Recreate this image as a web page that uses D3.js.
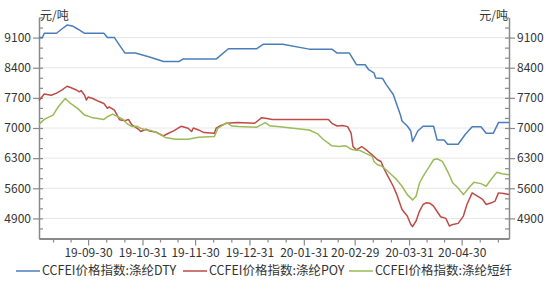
<!DOCTYPE html>
<html>
<head>
<meta charset="utf-8">
<script src="https://cdn.jsdelivr.net/npm/d3@7"></script>
<style>
  body { margin: 0; background: #fff; }
  text { font-family: "Noto Sans CJK SC", "Noto Sans", sans-serif; fill: #333; }
</style>
</head>
<body>
<script>
// CCFEI 涤纶价格指数

let w = 550;
let h = 294;

let svg = d3.select('body').append('svg').attr('width', w).attr('height', h);

// 涤纶DTY
let dty = [
    ['2019-09-02', 9100], ['2019-09-04', 9100], ['2019-09-05', 9200], ['2019-09-12', 9200],
    ['2019-09-15', 9300], ['2019-09-18', 9390], ['2019-09-21', 9370], ['2019-09-24', 9300],
    ['2019-09-28', 9200], ['2019-10-09', 9200], ['2019-10-11', 9100], ['2019-10-15', 9100],
    ['2019-10-21', 8740], ['2019-10-27', 8740], ['2019-11-04', 8650], ['2019-11-12', 8546],
    ['2019-11-21', 8546], ['2019-11-23', 8600], ['2019-12-12', 8600], ['2019-12-19', 8840],
    ['2020-01-04', 8840], ['2020-01-08', 8947], ['2020-01-19', 8947], ['2020-02-03', 8832],
    ['2020-02-16', 8832], ['2020-02-19', 8740], ['2020-02-26', 8740], ['2020-03-01', 8470],
    ['2020-03-06', 8470], ['2020-03-08', 8354], ['2020-03-11', 8280], ['2020-03-12', 8163],
    ['2020-03-16', 8147], ['2020-03-18', 8008], ['2020-03-22', 7777], ['2020-03-24', 7546],
    ['2020-03-26', 7316], ['2020-03-27', 7162], ['2020-03-30', 7046], ['2020-04-01', 6930],
    ['2020-04-02', 6686], ['2020-04-05', 6930], ['2020-04-08', 7040], ['2020-04-14', 7040],
    ['2020-04-16', 6723], ['2020-04-20', 6723], ['2020-04-22', 6623], ['2020-04-28', 6623],
    ['2020-05-02', 6850], ['2020-05-06', 7030], ['2020-05-11', 7030], ['2020-05-14', 6877],
    ['2020-05-18', 6877], ['2020-05-21', 7125], ['2020-05-27', 7125]
];

// 涤纶POY
let poy = [
    ['2019-09-02', 7640], ['2019-09-05', 7790], ['2019-09-09', 7760], ['2019-09-12', 7810],
    ['2019-09-15', 7880], ['2019-09-18', 7970], ['2019-09-20', 7940], ['2019-09-23', 7890],
    ['2019-09-25', 7840], ['2019-09-26', 7870], ['2019-09-28', 7760], ['2019-09-29', 7650],
    ['2019-09-30', 7720], ['2019-10-03', 7680], ['2019-10-06', 7620], ['2019-10-09', 7570],
    ['2019-10-11', 7460], ['2019-10-12', 7490], ['2019-10-15', 7415], ['2019-10-16', 7340],
    ['2019-10-18', 7190], ['2019-10-21', 7170], ['2019-10-23', 7200], ['2019-10-25', 7070],
    ['2019-10-29', 6960], ['2019-10-30', 6920], ['2019-11-02', 6970], ['2019-11-04', 6930],
    ['2019-11-08', 6900], ['2019-11-12', 6815], ['2019-11-14', 6860], ['2019-11-18', 6940],
    ['2019-11-22', 7040], ['2019-11-26', 6995], ['2019-11-28', 6917], ['2019-11-29', 7000],
    ['2019-12-02', 6955], ['2019-12-05', 6893], ['2019-12-11', 6877], ['2019-12-12', 6995],
    ['2019-12-14', 7046], ['2019-12-18', 7108], ['2019-12-24', 7125], ['2020-01-03', 7110],
    ['2020-01-07', 7240], ['2020-01-10', 7223], ['2020-01-13', 7200], ['2020-02-14', 7200],
    ['2020-02-16', 7108], ['2020-02-19', 7046], ['2020-02-22', 7060], ['2020-02-25', 7032],
    ['2020-02-27', 6877], ['2020-02-28', 6570], ['2020-03-01', 6492], ['2020-03-04', 6570],
    ['2020-03-07', 6478], ['2020-03-10', 6377], ['2020-03-13', 6262], ['2020-03-15', 6223],
    ['2020-03-17', 6030], ['2020-03-19', 5878], ['2020-03-22', 5647], ['2020-03-24', 5453],
    ['2020-03-27', 5107], ['2020-03-30', 4954], ['2020-04-01', 4760], ['2020-04-02', 4710],
    ['2020-04-04', 4840], ['2020-04-06', 5070], ['2020-04-08', 5223], ['2020-04-10', 5265],
    ['2020-04-12', 5250], ['2020-04-14', 5185], ['2020-04-16', 5060], ['2020-04-18', 4939],
    ['2020-04-21', 4900], ['2020-04-23', 4723], ['2020-04-25', 4760], ['2020-04-28', 4785],
    ['2020-05-01', 4954], ['2020-05-03', 5223], ['2020-05-06', 5493], ['2020-05-09', 5416],
    ['2020-05-12', 5340], ['2020-05-14', 5223], ['2020-05-17', 5262], ['2020-05-19', 5300],
    ['2020-05-21', 5493], ['2020-05-24', 5480], ['2020-05-27', 5453]
];

// 涤纶短纤
let psf = [
    ['2019-09-02', 7085], ['2019-09-05', 7200], ['2019-09-10', 7300], ['2019-09-13', 7494],
    ['2019-09-17', 7685], ['2019-09-20', 7570], ['2019-09-24', 7455], ['2019-09-28', 7300],
    ['2019-10-02', 7246], ['2019-10-09', 7200], ['2019-10-11', 7262], ['2019-10-14', 7323],
    ['2019-10-17', 7262], ['2019-10-20', 7200], ['2019-10-22', 7108], ['2019-10-25', 7032],
    ['2019-10-28', 7040], ['2019-10-30', 6993], ['2019-11-02', 6954], ['2019-11-05', 6940],
    ['2019-11-09', 6877], ['2019-11-13', 6780], ['2019-11-19', 6739], ['2019-11-26', 6739],
    ['2019-12-02', 6785], ['2019-12-11', 6800], ['2019-12-13', 6993], ['2019-12-18', 7125],
    ['2019-12-21', 7046], ['2019-12-25', 7032], ['2020-01-04', 7016], ['2020-01-09', 7125],
    ['2020-01-12', 7046], ['2020-01-16', 7032], ['2020-01-25', 6993], ['2020-02-03', 6954],
    ['2020-02-08', 6862], ['2020-02-11', 6739], ['2020-02-14', 6647], ['2020-02-16', 6585],
    ['2020-02-20', 6570], ['2020-02-24', 6585], ['2020-02-26', 6530], ['2020-02-28', 6492],
    ['2020-03-03', 6478], ['2020-03-06', 6415], ['2020-03-10', 6340], ['2020-03-11', 6223],
    ['2020-03-13', 6146], ['2020-03-15', 6123], ['2020-03-18', 6030], ['2020-03-21', 5915],
    ['2020-03-24', 5800], ['2020-03-27', 5647], ['2020-03-30', 5453], ['2020-04-02', 5330],
    ['2020-04-04', 5416], ['2020-04-06', 5723], ['2020-04-08', 5878], ['2020-04-11', 6070],
    ['2020-04-14', 6262], ['2020-04-16', 6285], ['2020-04-19', 6223], ['2020-04-22', 5993],
    ['2020-04-25', 5723], ['2020-04-28', 5608], ['2020-05-01', 5453], ['2020-05-04', 5608],
    ['2020-05-07', 5738], ['2020-05-11', 5708], ['2020-05-14', 5647], ['2020-05-16', 5762],
    ['2020-05-20', 5970], ['2020-05-23', 5938], ['2020-05-27', 5915]
];

let monthEnds = ['2019-08-31', '2019-09-30', '2019-10-31', '2019-11-30', '2019-12-31',
    '2020-01-31', '2020-02-29', '2020-03-31', '2020-04-30', '2020-05-31'];
let xLabels = ['19-09-30', '19-10-31', '19-11-30', '19-12-31', '20-01-31', '20-02-29', '20-03-31', '20-04-30'];
let yTicks = [4900, 5600, 6300, 7000, 7700, 8400, 9100];

let seriesNames = ['CCFEI价格指数:涤纶DTY', 'CCFEI价格指数:涤纶POY', 'CCFEI价格指数:涤纶短纤'];
let colors = ['#4a7ebb', '#be4b48', '#9bbb59'];

let parse = d3.timeParse('%Y-%m-%d');

let x = d3.scaleTime()
    .domain([parse('2019-09-02'), parse('2020-05-27')])
    .range([39, 509]);

let y = d3.scaleLinear()
    .domain([4900 - 700 * 2 / 3, 9100 + 700 * 2 / 3])
    .range([238.5, 17.5]);

// major x ticks are the labelled month ends, minor ones split each month in thirds
let majorDates = xLabels.map(l => parse('20' + l));
let minorDates = [];
for (let i = 0; i < monthEnds.length - 1; i++) {
    let a = parse(monthEnds[i]), b = parse(monthEnds[i + 1]);
    for (let k = 1; k <= 2; k++) {
        let t = new Date(+a + (b - a) * k / 3);
        if (t >= x.domain()[0] && t <= x.domain()[1]) minorDates.push(t);
    }
}
let yMinor = d3.range(y.domain()[0], y.domain()[1] + 1, 700 / 3);

// grid
svg.append('g')
    .selectAll('line')
    .data(yTicks)
    .enter()
    .append('line')
    .attr('x1', 39).attr('x2', 509)
    .attr('y1', d => y(d)).attr('y2', d => y(d))
    .attr('stroke', '#e6e6e6')
    .attr('stroke-width', 1);

function styleAxis(g) {
    g.selectAll('.domain').attr('stroke', '#8a8a8a').attr('stroke-width', 1.5);
    g.selectAll('.tick line').attr('stroke', '#8a8a8a').attr('stroke-width', 1.2);
    g.selectAll('.tick text').style('font-size', '12px').attr('fill', '#333');
}

let fmt = d3.format('d');

// left axis
svg.append('g')
    .attr('transform', 'translate(39,0)')
    .call(d3.axisLeft(y).tickValues(yMinor).tickSize(-4).tickSizeOuter(0).tickFormat(''))
    .call(styleAxis);
svg.append('g')
    .attr('transform', 'translate(39,0)')
    .call(d3.axisLeft(y).tickValues(yTicks).tickSize(6).tickSizeOuter(0).tickPadding(2).tickFormat(fmt))
    .call(styleAxis)
    .call(g => g.select('.domain').remove());

// right axis
svg.append('g')
    .attr('transform', 'translate(509,0)')
    .call(d3.axisRight(y).tickValues(yMinor).tickSize(-4).tickSizeOuter(0).tickFormat(''))
    .call(styleAxis);
svg.append('g')
    .attr('transform', 'translate(509,0)')
    .call(d3.axisRight(y).tickValues(yTicks).tickSize(6).tickSizeOuter(0).tickPadding(2).tickFormat(fmt))
    .call(styleAxis)
    .call(g => g.select('.domain').remove());

// bottom axis
svg.append('g')
    .attr('transform', 'translate(0,238.5)')
    .call(d3.axisBottom(x).tickValues(minorDates).tickSize(4).tickSizeOuter(0).tickFormat(''))
    .call(styleAxis)
    .call(g => g.select('.domain').attr('stroke-width', 2.2));
svg.append('g')
    .attr('transform', 'translate(0,238.5)')
    .call(d3.axisBottom(x).tickValues(majorDates).tickSize(7).tickSizeOuter(0).tickPadding(3)
        .tickFormat((d, i) => xLabels[i]))
    .call(styleAxis)
    .call(g => g.select('.domain').remove());

// unit labels
svg.append('text').text('元/吨')
    .attr('x', 40).attr('y', 20)
    .style('font-size', '12px');
svg.append('text').text('元/吨')
    .attr('x', 508).attr('y', 20)
    .attr('text-anchor', 'end')
    .style('font-size', '12px');

// lines
let line = d3.line()
    .x(d => x(parse(d[0])))
    .y(d => y(d[1]));

[dty, poy, psf].forEach((s, i) => {
    svg.append('path')
        .datum(s)
        .attr('d', line)
        .attr('fill', 'none')
        .attr('stroke', colors[i])
        .attr('stroke-width', 1.5)
        .attr('stroke-linejoin', 'round');
});

// legend
let legendX = [16, 183, 349];
let legend = svg.selectAll('.legend')
    .data(seriesNames)
    .enter()
    .append('g')
    .attr('class', 'legend')
    .attr('transform', (d, i) => `translate(${legendX[i]},271)`);

legend.append('line')
    .attr('x1', 0).attr('x2', 24)
    .attr('stroke', (d, i) => colors[i])
    .attr('stroke-width', 1.5);

legend.append('text')
    .text(d => d)
    .attr('x', 26)
    .attr('dy', '0.35em')
    .style('font-size', '12.5px');
</script>
</body>
</html>
